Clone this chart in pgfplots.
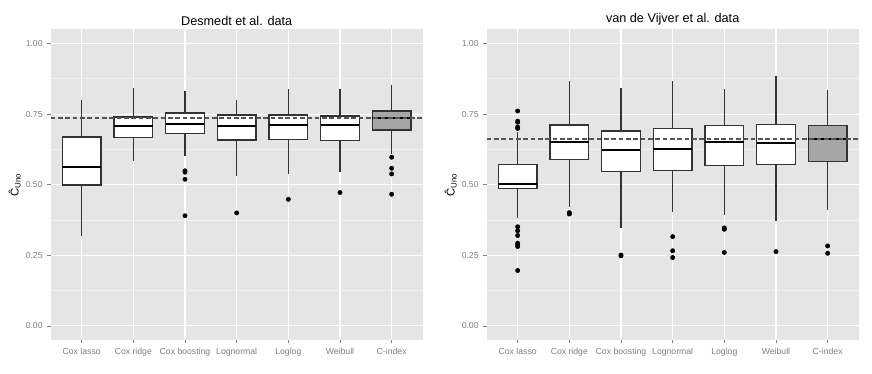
\documentclass[border=0pt]{standalone}
\usepackage{fontspec}
\setmainfont{Liberation Sans}
\usepackage{pgfplots}
\pgfplotsset{compat=1.18}
\usepgfplotslibrary{statistics}

\definecolor{panelbg}{RGB}{229,229,229}
\definecolor{minorgrid}{RGB}{242,242,242}
\definecolor{ticktext}{RGB}{127,127,127}
\definecolor{boxline}{RGB}{51,51,51}
\definecolor{cgrey}{RGB}{166,166,166}
\definecolor{refline}{RGB}{85,85,85}

\pgfplotsset{
  ggpanel/.style={
    scale only axis, width=279pt, height=233pt,
    axis background/.style={fill=panelbg},
    axis line style={draw=none},
    xmin=0.4, xmax=7.6, ymin=-0.05, ymax=1.05,
    xtick={1,...,7},
    xticklabels={Cox lasso, Cox ridge, Cox boosting, Lognormal, Loglog, Weibull, C-index},
    ytick={0,0.25,0.5,0.75,1},
    minor ytick={0.125,0.375,0.625,0.875},
    yticklabel style={/pgf/number format/fixed, /pgf/number format/fixed zerofill,
                      /pgf/number format/precision=2},
    /pgf/number format/assume math mode=true,
    grid=both,
    major grid style={white, line width=0.8pt},
    minor grid style={minorgrid, line width=0.5pt},
    tick align=outside, tick pos=left,
    major tick length=2.5pt, minor tick length=0pt,
    tick style={ticktext, line width=0.5pt},
    tick label style={font=\fontsize{6.5}{7}\selectfont, text=ticktext},
    ylabel={Ĉ\textsubscript{Uno}},
    ylabel style={font=\fontsize{8.5}{9}\selectfont, yshift=-3pt},
    title style={font=\fontsize{9.5}{11}\selectfont, yshift=-6.5pt},
  },
  ggbox/.style={
    black, solid, mark=*, mark size=1.6pt,
    boxplot/draw direction=y,
    boxplot/box extend=0.75,
    boxplot/whisker extend=0,
    boxplot/every box/.style={draw=boxline, fill=white, line width=1pt},
    boxplot/every whisker/.style={draw=boxline, line width=0.8pt},
    boxplot/every median/.style={draw=black, line width=1.5pt},
  },
  cbox/.style={ggbox, boxplot/every box/.style={draw=boxline, fill=cgrey, line width=1pt}},
}

\begin{document}
\begin{tikzpicture}
\path[use as bounding box] (-38pt,-25.5pt) rectangle (616pt,255pt);

% Desmedt et al.
\begin{axis}[ggpanel, at={(0,0)}, anchor=south west, title={Desmedt et al. data}]
\addplot[ggbox, boxplot prepared={draw position=1, lower whisker=0.317,
  lower quartile=0.499, median=0.564, upper quartile=0.669, upper whisker=0.801}]
  coordinates {};
\addplot[ggbox, boxplot prepared={draw position=2, lower whisker=0.583,
  lower quartile=0.667, median=0.707, upper quartile=0.739, upper whisker=0.843}]
  coordinates {};
\addplot[ggbox, boxplot prepared={draw position=3, lower whisker=0.602,
  lower quartile=0.682, median=0.714, upper quartile=0.754, upper whisker=0.830}]
  table[row sep=\\, y index=0] {data\\ 0.549\\ 0.544\\ 0.519\\ 0.390\\};
\addplot[ggbox, boxplot prepared={draw position=4, lower whisker=0.529,
  lower quartile=0.658, median=0.709, upper quartile=0.747, upper whisker=0.798}]
  table[row sep=\\, y index=0] {data\\ 0.400\\};
\addplot[ggbox, boxplot prepared={draw position=5, lower whisker=0.539,
  lower quartile=0.659, median=0.712, upper quartile=0.747, upper whisker=0.840}]
  table[row sep=\\, y index=0] {data\\ 0.448\\};
\addplot[ggbox, boxplot prepared={draw position=6, lower whisker=0.545,
  lower quartile=0.656, median=0.712, upper quartile=0.743, upper whisker=0.839}]
  table[row sep=\\, y index=0] {data\\ 0.472\\};
\addplot[cbox, boxplot prepared={draw position=7, lower whisker=0.610,
  lower quartile=0.694, median=0.736, upper quartile=0.761, upper whisker=0.852}]
  table[row sep=\\, y index=0] {data\\ 0.597\\ 0.558\\ 0.538\\ 0.466\\};
\addplot[refline, line width=1.2pt, dash pattern=on 3.5pt off 2pt]
  coordinates {(0.4,0.736) (7.6,0.736)};
\end{axis}

% van de Vijver et al.
\begin{axis}[ggpanel, at={(327pt,0)}, anchor=south west, title={van de Vijver et al. data}]
\addplot[ggbox, boxplot prepared={draw position=1, lower whisker=0.382,
  lower quartile=0.486, median=0.501, upper quartile=0.571, upper whisker=0.686}]
  table[row sep=\\, y index=0] {data\\ 0.761\\ 0.725\\ 0.721\\ 0.704\\ 0.699\\
    0.351\\ 0.337\\ 0.320\\ 0.293\\ 0.287\\ 0.281\\ 0.196\\};
\addplot[ggbox, boxplot prepared={draw position=2, lower whisker=0.420,
  lower quartile=0.590, median=0.651, upper quartile=0.711, upper whisker=0.868}]
  table[row sep=\\, y index=0] {data\\ 0.401\\ 0.396\\};
\addplot[ggbox, boxplot prepared={draw position=3, lower whisker=0.345,
  lower quartile=0.546, median=0.623, upper quartile=0.690, upper whisker=0.843}]
  table[row sep=\\, y index=0] {data\\ 0.251\\ 0.248\\};
\addplot[ggbox, boxplot prepared={draw position=4, lower whisker=0.404,
  lower quartile=0.551, median=0.626, upper quartile=0.700, upper whisker=0.868}]
  table[row sep=\\, y index=0] {data\\ 0.316\\ 0.266\\ 0.242\\};
\addplot[ggbox, boxplot prepared={draw position=5, lower whisker=0.391,
  lower quartile=0.568, median=0.651, upper quartile=0.710, upper whisker=0.840}]
  table[row sep=\\, y index=0] {data\\ 0.347\\ 0.342\\ 0.260\\};
\addplot[ggbox, boxplot prepared={draw position=6, lower whisker=0.371,
  lower quartile=0.572, median=0.647, upper quartile=0.713, upper whisker=0.884}]
  table[row sep=\\, y index=0] {data\\ 0.263\\};
\addplot[cbox, boxplot prepared={draw position=7, lower whisker=0.412,
  lower quartile=0.583, median=0.660, upper quartile=0.710, upper whisker=0.835}]
  table[row sep=\\, y index=0] {data\\ 0.283\\ 0.257\\};
\addplot[refline, line width=1.2pt, dash pattern=on 3.5pt off 2pt]
  coordinates {(0.4,0.662) (7.6,0.662)};
\end{axis}
\end{tikzpicture}
\end{document}
